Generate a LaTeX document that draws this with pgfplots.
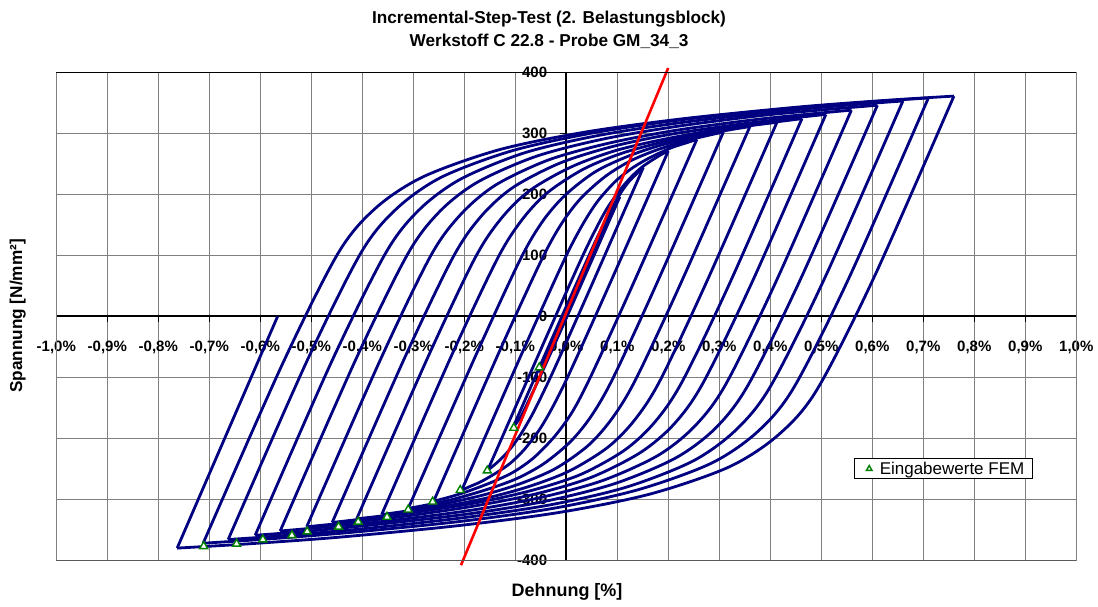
\documentclass[border=0pt]{standalone}
\usepackage{pgfplots}
\pgfplotsset{compat=1.18}
\usepackage{fontspec}
\setmainfont{Liberation Sans}

\definecolor{loopblue}{RGB}{0,0,128}
\definecolor{femgreen}{RGB}{0,128,0}
\definecolor{gridgray}{RGB}{128,128,128}

% one half cycle of the hysteresis (loading or unloading branch)
\pgfplotsset{branch/.style={loopblue, line width=2.8pt, smooth, no markers, forget plot}}

\begin{document}
\begin{tikzpicture}
\begin{axis}[
  at={(0,0)}, anchor=south west,
  scale only axis, width=1020pt, height=488pt,
  xmin=-1, xmax=1, ymin=-400, ymax=400,
  enlargelimits=false, clip=false,
  axis lines=middle,
  axis line style={-, black, line width=1.8pt},
  hide obscured x ticks=false, hide obscured y ticks=false,
  xtick={-1,-0.9,-0.8,-0.7,-0.6,-0.5,-0.4,-0.3,-0.2,-0.1,0,0.1,0.2,0.3,0.4,0.5,0.6,0.7,0.8,0.9,1},
  xticklabels={{-1,0\%},{-0,9\%},{-0,8\%},{-0,7\%},{-0,6\%},{-0,5\%},{-0,4\%},{-0,3\%},{-0,2\%},{-0,1\%},{0,0\%},{0,1\%},{0,2\%},{0,3\%},{0,4\%},{0,5\%},{0,6\%},{0,7\%},{0,8\%},{0,9\%},{1,0\%}},
  ytick={-400,-300,-200,-100,0,100,200,300,400},
  yticklabels={-400,-300,-200,-100,0,100,200,300,400},
  /pgf/number format/assume math mode=true,
  grid=major,
  major grid style={gridgray, line width=0.8pt},
  tick style={black, line width=1.2pt},
  major tick length=6pt,
  tick align=outside,
  x tick label style={font=\fontsize{15}{17}\selectfont\bfseries, anchor=base, yshift=-29pt, inner sep=0pt},
  y tick label style={font=\fontsize{15}{17}\selectfont\bfseries, anchor=east, xshift=-13pt, inner sep=0pt},
  legend style={at={(axis description cs:0.7824,0.1666)}, anchor=south west,
    draw=black, line width=0.7pt, fill=white, inner xsep=6pt, inner ysep=1pt,
    nodes={inner sep=2pt}, font=\fontsize{17}{19}\selectfont},
  legend cell align=left,
  legend image code/.code={%
    \path[draw=none, fill=none] (0cm,-2pt) rectangle (0.6cm,2pt);
    \draw[#1, mark size=3.2pt] plot[only marks] coordinates {(0.3cm,0cm)};},
]

% unloading branches (from upper reversal point down)
\addplot[branch] coordinates {(0.760,361) (0.604,65) (0.491,-121) (0.415,-195) (0.319,-247) (0.166,-291) (-0.010,-321) (-0.210,-343) (-0.444,-362) (-0.623,-373) (-0.763,-380)};
\addplot[branch] coordinates {(0.710,358) (0.556,66) (0.446,-117) (0.374,-190) (0.284,-241) (0.142,-284) (-0.020,-314) (-0.205,-336) (-0.419,-354) (-0.584,-365) (-0.712,-372)};
\addplot[branch] coordinates {(0.660,353) (0.508,65) (0.401,-114) (0.333,-186) (0.249,-237) (0.118,-280) (-0.031,-309) (-0.200,-330) (-0.395,-348) (-0.546,-359) (-0.663,-366)};
\addplot[branch] coordinates {(0.610,346) (0.461,64) (0.357,-112) (0.293,-183) (0.215,-232) (0.096,-274) (-0.040,-303) (-0.192,-324) (-0.369,-341) (-0.504,-352) (-0.610,-359)};
\addplot[branch] coordinates {(0.559,338) (0.414,62) (0.313,-111) (0.252,-180) (0.180,-228) (0.072,-269) (-0.050,-297) (-0.187,-318) (-0.345,-335) (-0.467,-345) (-0.561,-352)};
\addplot[branch] coordinates {(0.509,331) (0.367,61) (0.269,-108) (0.212,-176) (0.146,-223) (0.049,-264) (-0.059,-291) (-0.180,-311) (-0.319,-328) (-0.426,-338) (-0.509,-345)};
\addplot[branch] coordinates {(0.462,324) (0.323,59) (0.228,-106) (0.174,-173) (0.115,-219) (0.029,-259) (-0.066,-285) (-0.172,-305) (-0.294,-321) (-0.387,-331) (-0.459,-338)};
\addplot[branch] coordinates {(0.413,318) (0.276,58) (0.184,-105) (0.134,-170) (0.081,-215) (0.005,-254) (-0.077,-280) (-0.167,-300) (-0.271,-316) (-0.350,-326) (-0.411,-332)};
\addplot[branch] coordinates {(0.360,311) (0.226,57) (0.137,-102) (0.091,-166) (0.044,-211) (-0.020,-249) (-0.089,-274) (-0.163,-293) (-0.248,-309) (-0.312,-319) (-0.362,-325)};
\addplot[branch] coordinates {(0.308,302) (0.178,55) (0.093,-99) (0.051,-161) (0.010,-204) (-0.043,-241) (-0.097,-266) (-0.156,-284) (-0.222,-300) (-0.272,-309) (-0.310,-315)};
\addplot[branch] coordinates {(0.256,290) (0.131,53) (0.050,-95) (0.013,-155) (-0.022,-196) (-0.064,-232) (-0.105,-256) (-0.149,-273) (-0.197,-288) (-0.232,-297) (-0.260,-303)};
\addplot[branch] coordinates {(0.200,271) (0.083,49) (0.008,-90) (-0.025,-146) (-0.052,-185) (-0.082,-218) (-0.110,-241) (-0.138,-257) (-0.167,-271) (-0.189,-279) (-0.205,-285)};
\addplot[branch] coordinates {(0.151,244) (0.047,46) (-0.019,-78) (-0.047,-128) (-0.068,-163) (-0.089,-193) (-0.105,-212) (-0.120,-227) (-0.136,-240) (-0.146,-247) (-0.154,-252)};
\addplot[branch] coordinates {(0.105,196) (-0.025,-50) (-0.082,-153) (-0.097,-174) (-0.105,-183)};
\addplot[branch] coordinates {(0.052,100) (-0.053,-92)};

% loading branches (from lower reversal point up)
\addplot[branch] coordinates {(0,0) (0.052,100)};
\addplot[branch] coordinates {(-0.053,-92) (0.046,95) (0.089,173) (0.100,189) (0.105,196)};
\addplot[branch] coordinates {(-0.105,-183) (-0.015,-12) (0.042,95) (0.065,137) (0.083,167) (0.100,193) (0.113,210) (0.125,223) (0.137,233) (0.145,240) (0.151,244)};
\addplot[branch] coordinates {(-0.154,-252) (-0.044,-43) (0.026,88) (0.056,140) (0.080,177) (0.106,208) (0.128,229) (0.149,245) (0.172,258) (0.188,266) (0.200,271)};
\addplot[branch] coordinates {(-0.205,-285) (-0.084,-55) (-0.006,89) (0.029,146) (0.060,187) (0.096,221) (0.131,244) (0.166,261) (0.205,276) (0.234,284) (0.256,290)};
\addplot[branch] coordinates {(-0.260,-303) (-0.133,-61) (-0.050,90) (-0.010,151) (0.028,193) (0.076,229) (0.124,254) (0.175,272) (0.232,287) (0.275,296) (0.308,302)};
\addplot[branch] coordinates {(-0.310,-315) (-0.178,-65) (-0.091,92) (-0.047,155) (-0.003,198) (0.055,236) (0.117,261) (0.183,280) (0.259,295) (0.316,305) (0.360,311)};
\addplot[branch] coordinates {(-0.362,-325) (-0.227,-68) (-0.136,93) (-0.088,157) (-0.038,202) (0.033,241) (0.108,267) (0.191,286) (0.285,302) (0.357,312) (0.413,318)};
\addplot[branch] coordinates {(-0.411,-332) (-0.273,-70) (-0.180,94) (-0.128,160) (-0.072,206) (0.010,245) (0.098,272) (0.196,291) (0.309,308) (0.395,317) (0.462,324)};
\addplot[branch] coordinates {(-0.459,-338) (-0.318,-70) (-0.222,97) (-0.167,164) (-0.105,211) (-0.013,251) (0.089,278) (0.202,298) (0.332,314) (0.432,324) (0.509,331)};
\addplot[branch] coordinates {(-0.509,-345) (-0.365,-72) (-0.266,99) (-0.207,167) (-0.139,215) (-0.036,256) (0.079,283) (0.208,304) (0.356,321) (0.470,331) (0.559,338)};
\addplot[branch] coordinates {(-0.561,-352) (-0.414,-73) (-0.311,102) (-0.248,172) (-0.174,220) (-0.060,262) (0.069,290) (0.214,311) (0.381,329) (0.510,339) (0.610,346)};
\addplot[branch] coordinates {(-0.610,-359) (-0.460,-74) (-0.354,104) (-0.288,175) (-0.207,225) (-0.082,268) (0.060,296) (0.220,317) (0.406,335) (0.549,346) (0.660,353)};
\addplot[branch] coordinates {(-0.663,-366) (-0.510,-76) (-0.402,105) (-0.332,177) (-0.245,228) (-0.108,271) (0.048,300) (0.224,322) (0.429,340) (0.587,351) (0.710,358)};
\addplot[branch] coordinates {(-0.712,-372) (-0.557,-79) (-0.447,104) (-0.373,178) (-0.280,229) (-0.132,273) (0.037,302) (0.230,324) (0.454,343) (0.626,354) (0.760,361)};
% final unloading to zero stress
\addplot[branch] coordinates {(-0.763,-380) (-0.662,-185) (-0.566,0)};

% Hooke line, E = 200 000 N/mm^2
\addplot[red, line width=2.6pt, forget plot] coordinates {(-0.2065,-408) (0.1998,407)};

% FEM input values
\addplot[only marks, mark=triangle*, mark size=4.6pt,
  mark options={draw=femgreen, fill=white, line width=1.4pt}] coordinates {
  (-0.711,-377) (-0.6465,-373) (-0.595,-366) (-0.538,-359) (-0.508,-353)
  (-0.4465,-345) (-0.408,-337) (-0.3515,-329) (-0.310,-317) (-0.262,-304)
  (-0.208,-285) (-0.155,-253) (-0.103,-183) (-0.053,-84)};
\addlegendentry{Eingabewerte FEM}
\end{axis}

% plot area frame
\draw[gridgray, line width=1pt] (0,0) rectangle (1020pt,488pt);
\draw[black, line width=0.8pt] (0,488pt) -- (1020pt,488pt);
\draw[black!65, line width=1.5pt] (0,0) -- (1020pt,0);

% titles
\node[anchor=base, font=\fontsize{17.2}{20}\selectfont\bfseries] at (492.7pt,537.1pt) {Incremental-Step-Test (2. Belastungsblock)};
\node[anchor=base, font=\fontsize{17.2}{20}\selectfont\bfseries] at (492.7pt,514.1pt) {Werkstoff C 22.8 - Probe GM\_34\_3};
\node[anchor=base, font=\fontsize{18}{20}\selectfont\bfseries] at (510.7pt,-36.2pt) {Dehnung [\%]};
\node[anchor=base, rotate=90, font=\fontsize{17.2}{20}\selectfont\bfseries] at (-34.3pt,244.3pt) {Spannung [N/mm²]};

\pgfresetboundingbox
\path[use as bounding box] (-56.3pt,-45.7pt) rectangle (1041.7pt,560.3pt);
\end{tikzpicture}
\end{document}
